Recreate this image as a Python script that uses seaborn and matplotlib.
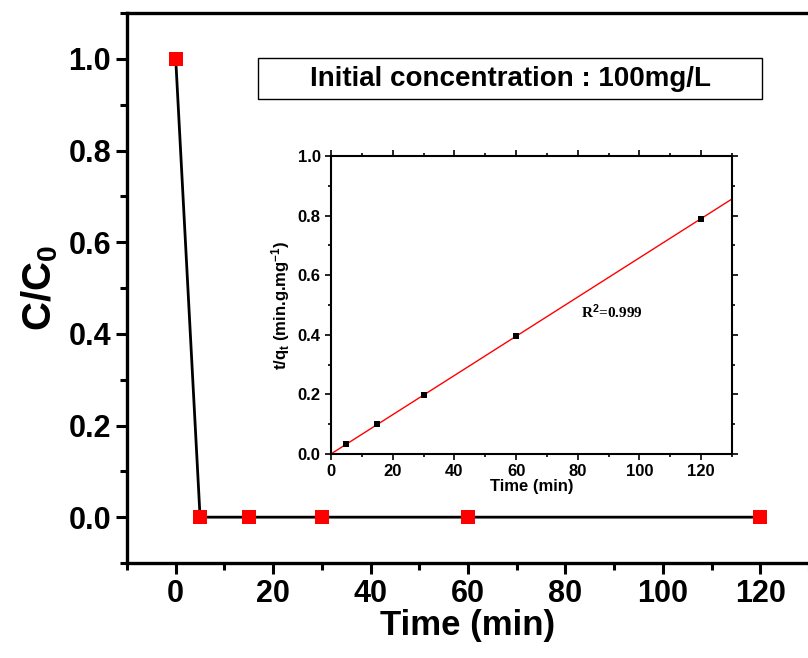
import numpy as np
import pandas as pd
import matplotlib
matplotlib.use("Agg")
import matplotlib.pyplot as plt
from matplotlib.ticker import MultipleLocator
from matplotlib.patches import Rectangle
import seaborn as sns

# main curve: C/C0 vs time
time_main = [0, 5, 15, 30, 60, 120]
ratio_main = [1.0, 0.0, 0.0, 0.0, 0.0, 0.0]

# inset: pseudo-second-order plot t/qt vs time
time_inset = [5, 15, 30, 60, 120]
tqt_inset = [0.033, 0.099, 0.198, 0.395, 0.79]

sns.set_style("ticks")
plt.rcParams['font.family'] = ['Liberation Sans', 'DejaVu Sans']
plt.rcParams['mathtext.fontset'] = 'custom'
plt.rcParams['mathtext.rm'] = 'Liberation Sans:bold'
plt.rcParams['mathtext.it'] = 'Liberation Sans:bold'
plt.rcParams['mathtext.bf'] = 'Liberation Sans:bold'
for k in ['text.color', 'axes.labelcolor', 'xtick.color', 'ytick.color', 'axes.edgecolor']:
    plt.rcParams[k] = 'black'

fig = plt.figure(figsize=(8.08, 6.58), dpi=100)
ax = fig.add_axes([127 / 808, 95 / 658, 682 / 808, 550 / 658])

df_main = pd.DataFrame({"t": time_main, "c": ratio_main})
sns.lineplot(data=df_main, x="t", y="c", ax=ax, color="black", lw=2, zorder=2)
sns.scatterplot(data=df_main, x="t", y="c", ax=ax, marker="s", s=90,
                color="red", edgecolor="red", linewidth=0, zorder=3)

ax.set_xticks([0, 20, 40, 60, 80, 100, 120])
ax.xaxis.set_minor_locator(MultipleLocator(10))
ax.set_yticks([0.0, 0.2, 0.4, 0.6, 0.8, 1.0])
ax.yaxis.set_minor_locator(MultipleLocator(0.1))
ax.set_yticklabels(["0.0", "0.2", "0.4", "0.6", "0.8", "1.0"])
ax.set_xlim(-10, 130)
ax.set_ylim(-0.1, 1.1)
for s in ax.spines.values():
    s.set_linewidth(2.4)
ax.spines["right"].set_visible(False)
ax.tick_params(axis="both", which="major", direction="out", length=8, width=2.2,
               labelsize=22)
ax.tick_params(axis="both", which="minor", direction="out", length=5, width=2.2)
for lab in ax.get_xticklabels() + ax.get_yticklabels():
    lab.set_fontweight("bold")
ax.set_xlabel("Time (min)", fontsize=25, fontweight="bold", labelpad=0)
ax.set_ylabel("C/C$_0$", fontsize=29, fontweight="bold", labelpad=6)

# title box
fig.patches.append(Rectangle((258 / 808, 1 - 99 / 658), 504 / 808, 41 / 658,
                             transform=fig.transFigure, fc="white", ec="black",
                             lw=1, zorder=5))
fig.text(511 / 808, 1 - 79 / 658, "Initial concentration : 100mg/L",
         fontsize=20, fontweight="bold", ha="center", va="center", zorder=6)

# inset
axi = fig.add_axes([331 / 808, 1 - 454 / 658, 401 / 808, 298 / 658])
df_in = pd.DataFrame({"t": time_inset, "q": tqt_inset})
slope, icpt = np.polyfit(time_inset, tqt_inset, 1)
xfit = np.array([0, 130])
sns.lineplot(x=xfit, y=slope * xfit + icpt, ax=axi, color="red", lw=1, zorder=2)
sns.scatterplot(data=df_in, x="t", y="q", ax=axi, marker="s", s=22,
                color="black", edgecolor="black", linewidth=0, zorder=3)
axi.set_xlim(0, 130)
axi.set_ylim(0, 1.0)
axi.xaxis.set_major_locator(MultipleLocator(20))
axi.xaxis.set_minor_locator(MultipleLocator(10))
axi.yaxis.set_major_locator(MultipleLocator(0.2))
axi.yaxis.set_minor_locator(MultipleLocator(0.1))
for s in axi.spines.values():
    s.set_linewidth(1.5)
axi.tick_params(axis="both", which="both", direction="out", top=True, right=True,
                width=1.2, labelsize=12)
axi.tick_params(which="major", length=4)
axi.tick_params(which="minor", length=2.5)
for lab in axi.get_xticklabels() + axi.get_yticklabels():
    lab.set_fontweight("bold")
axi.set_xlabel("Time (min)", fontsize=12, fontweight="bold", labelpad=0)
axi.set_ylabel("t/q$_t$ (min.g.mg$^{-1}$)", fontsize=12, fontweight="bold", labelpad=4)
axi.text(81, 0.476, "R$^2$=0.999", fontsize=11, fontweight="bold",
         family=["Liberation Serif"], va="center")

fig.savefig("out.png", dpi=100)
